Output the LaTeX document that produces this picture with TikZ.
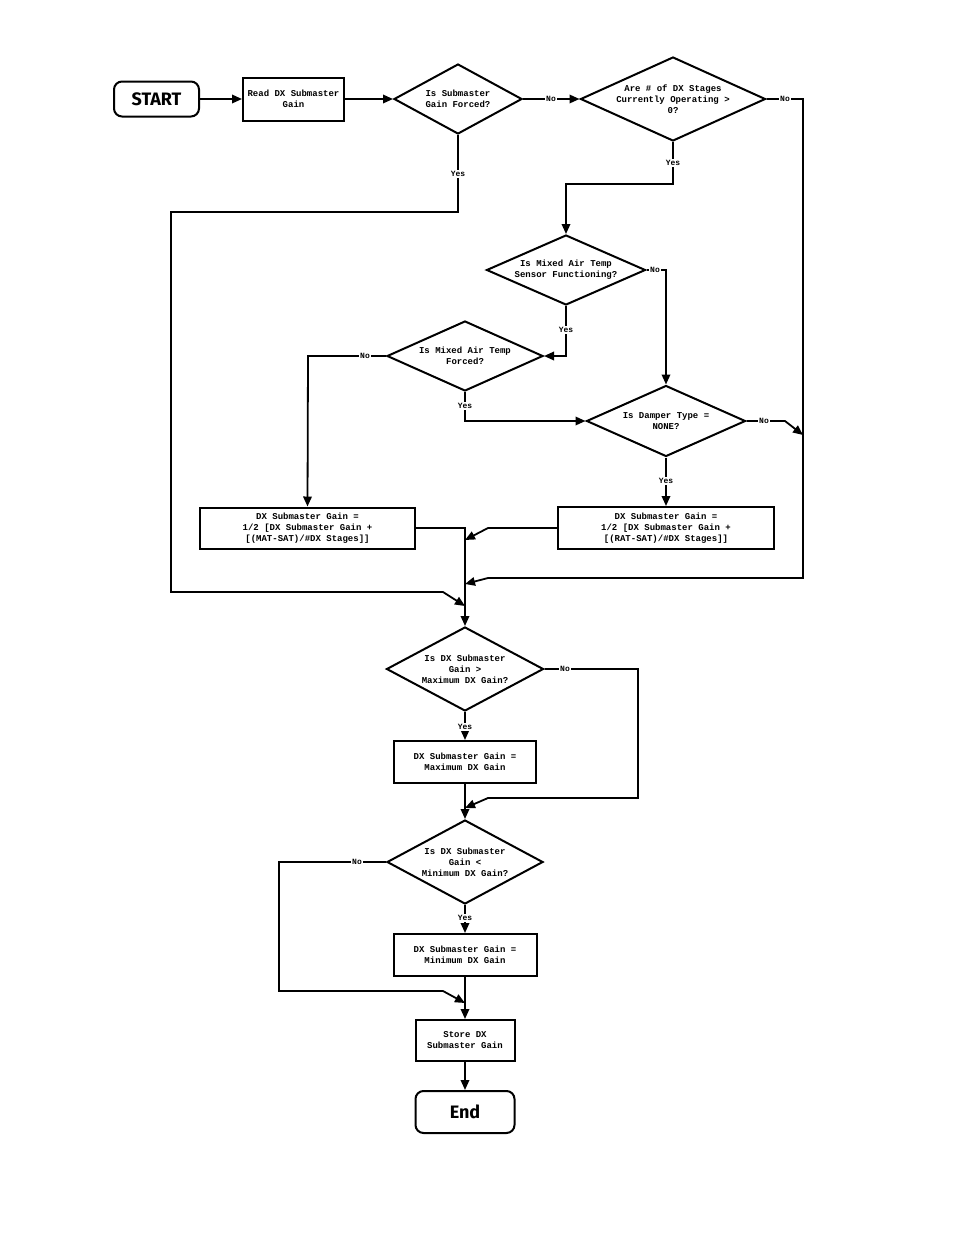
\documentclass[tikz,border=0pt]{standalone}
\usepackage{fontspec}
\setmonofont{Liberation Mono}
\newfontfamily\headfont{Fira Sans}
\usetikzlibrary{shapes.geometric,arrows.meta}
\begin{document}
\begin{tikzpicture}[x=1pt,y=-1pt,
  line width=1.8pt,
  mono/.style={font=\ttfamily\bfseries\fontsize{9}{11}\selectfont,align=center},
  box/.style={draw,line width=2pt,inner sep=0pt,mono},
  dia/.style={draw,diamond,line width=2pt,inner sep=0pt},
  term/.style={draw,rounded corners=8pt,line width=2pt,inner sep=0pt,font=\headfont\bfseries\fontsize{18}{20}\selectfont},
  lab/.style={fill=white,inner sep=1.2pt,font=\ttfamily\bfseries\fontsize{8}{9}\selectfont},
  arr/.style={-{Triangle[length=10pt,width=8.5pt]}}
]
\useasboundingbox (0,0) rectangle (954,1235);

% terminals and boxes
\node[term,minimum width=85pt,minimum height=35pt] (start) at (156.5,99) {START};
\node[box,minimum width=101pt,minimum height=43pt] (read) at (293.5,99) {Read DX Submaster\\Gain};
\node[box,minimum width=215pt,minimum height=41pt] (box6) at (307.5,528) {DX Submaster Gain =\\1/2 [DX Submaster Gain +\\{[}(MAT-SAT)/\#DX Stages]]};
\node[box,minimum width=216pt,minimum height=42pt] (box7) at (666,528) {DX Submaster Gain =\\1/2 [DX Submaster Gain +\\{[}(RAT-SAT)/\#DX Stages]]};
\node[box,minimum width=142pt,minimum height=42pt] (box8) at (465,762) {DX Submaster Gain =\\Maximum DX Gain};
\node[box,minimum width=143pt,minimum height=42pt] (box9) at (465,955) {DX Submaster Gain =\\Minimum DX Gain};
\node[box,minimum width=99pt,minimum height=41pt] (store) at (465,1040.5) {Store DX\\Submaster Gain};
\node[term,minimum width=99pt,minimum height=42pt] (end) at (465,1112) {End};

% decisions
\node[dia,minimum width=128pt,minimum height=70pt] (d1) at (458,99) {};
\node[mono] at (d1) {Is Submaster\\Gain Forced?};
\node[dia,minimum width=185pt,minimum height=84pt] (d2) at (673,99) {};
\node[mono] at (d2) {Are \# of DX Stages\\Currently Operating >\\0?};
\node[dia,minimum width=159pt,minimum height=70pt] (d3) at (566,270) {};
\node[mono] at (d3) {Is Mixed Air Temp\\Sensor Functioning?};
\node[dia,minimum width=156pt,minimum height=70pt] (d5) at (465,356) {};
\node[mono] at (d5) {Is Mixed Air Temp\\Forced?};
\node[dia,minimum width=159pt,minimum height=71pt] (d4) at (666,421) {};
\node[mono] at (d4) {Is Damper Type =\\NONE?};
\node[dia,minimum width=157pt,minimum height=84pt] (d6) at (465,669) {};
\node[mono] at (d6) {Is DX Submaster\\Gain >\\Maximum DX Gain?};
\node[dia,minimum width=156pt,minimum height=84pt] (d7) at (465,862) {};
\node[mono] at (d7) {Is DX Submaster\\Gain <\\Minimum DX Gain?};

% junctions
\coordinate (j1) at (465,540);
\coordinate (j2) at (465,584);
\coordinate (j3) at (465,606);
\coordinate (j4) at (803,435);
\coordinate (j5) at (465,808);
\coordinate (j6) at (465,1003);

% connectors
\draw[arr] (start.east) -- (read.west);
\draw[arr] (read.east) -- (d1.west);
\draw[arr] (d1.east) -- (d2.west);
\draw[arr] (d1.south) -- (458,212) -- (171,212) -- (171,592) -- (443,592) -- (j3);
\draw[arr] (d2.east) -- (803,99) -- (803,578) -- (488,578) -- (j2);
\draw[arr] (d2.south) -- (673,184) -- (566,184) -- (d3.north);
\draw[arr] (d3.east) -- (666,270) -- (d4.north);
\draw[arr] (d3.south) -- (566,356) -- (d5.east);
\draw[arr] (d5.west) -- (308,356) -- (box6.north);
\draw[arr] (d5.south) -- (465,421) -- (d4.west);
\draw[arr] (d4.east) -- (785,421) -- (j4);
\draw[arr] (d4.south) -- (box7.north);
\draw[arr] (box6.east) -- (465,528) -- (d6.north);
\draw[arr] (box7.west) -- (488,528) -- (j1);
\draw[arr] (d6.east) -- (638,669) -- (638,798) -- (488,798) -- (j5);
\draw[arr] (d6.south) -- (box8.north);
\draw[arr] (box8.south) -- (d7.north);
\draw[arr] (d7.west) -- (279,862) -- (279,991) -- (443,991) -- (j6);
\draw[arr] (d7.south) -- (box9.north);
\draw[arr] (box9.south) -- (store.north);
\draw[arr] (store.south) -- (end.north);

% labels
\node[lab] (l1) at (551,99) {No};
\node[lab] (l2) at (785,99) {No};
\node[lab] (l3) at (673,163) {Yes};
\node[lab] (l4) at (458,174) {Yes};
\node[lab] (l5) at (655,270) {No};
\node[lab] (l6) at (566,330) {Yes};
\node[lab] (l7) at (365,356) {No};
\node[lab] (l8) at (465,406) {Yes};
\node[lab] (l9) at (764,421) {No};
\node[lab] (l10) at (666,481) {Yes};
\node[lab] (l11) at (565,669) {No};
\node[lab] (l12) at (465,727) {Yes};
\node[lab] (l13) at (357,862) {No};
\node[lab] (l14) at (465,918) {Yes};
\end{tikzpicture}
\end{document}
